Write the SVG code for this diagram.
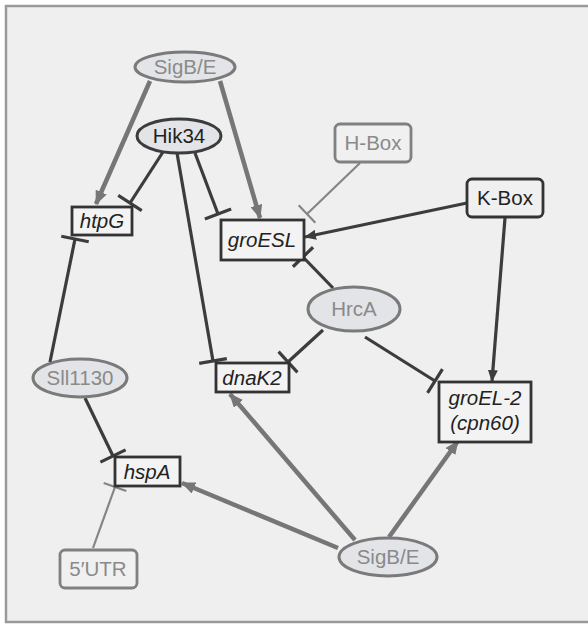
<svg xmlns="http://www.w3.org/2000/svg" width="588" height="624" viewBox="0 0 588 624">
<defs>
<style>
.ell{fill:#e3e4e7;stroke-width:3}
.eg{stroke:#7a7a7a}
.ed{stroke:#3c3c3c}
.box{fill:#f3f3f3;stroke:#333;stroke-width:2.8}
.rbg{fill:#f0f0f0;stroke:#808080;stroke-width:2.8}
.rbd{fill:#f0f0f0;stroke:#333;stroke-width:2.8}
text{font-family:"Liberation Sans",Arial,sans-serif;font-size:20.5px;text-anchor:middle}
.tg{fill:#8a8a8a}
.td{fill:#222}
.it{font-style:italic;fill:#222}
.act{fill:none;stroke:#767676;stroke-width:4.5}
.dk{fill:none;stroke:#3c3c3c;stroke-width:3.2}
.th{fill:none;stroke:#858585;stroke-width:2.2}
</style>
<marker id="ag" markerUnits="userSpaceOnUse" viewBox="0 0 14 12" refX="13" refY="6" markerWidth="14" markerHeight="12" orient="auto"><path d="M0,0 L14,6 L0,12 z" fill="#767676"/></marker>
<marker id="ad" markerUnits="userSpaceOnUse" viewBox="0 0 12 10" refX="11" refY="5" markerWidth="12" markerHeight="10" orient="auto"><path d="M0,0 L12,5 L0,10 z" fill="#3c3c3c"/></marker>
<marker id="bd" markerUnits="userSpaceOnUse" viewBox="-2 -15 4 30" refX="0" refY="0" markerWidth="4" markerHeight="30" orient="auto"><path d="M0,-14 L0,14" stroke="#3c3c3c" stroke-width="3.2"/></marker>
<marker id="bg" markerUnits="userSpaceOnUse" viewBox="-2 -14 4 28" refX="0" refY="0" markerWidth="4" markerHeight="28" orient="auto"><path d="M0,-12 L0,12" stroke="#858585" stroke-width="2.2"/></marker>
</defs>
<rect x="0" y="0" width="588" height="624" fill="#ffffff"/>
<rect x="6" y="6" width="600" height="616" fill="#efefef" stroke="#9a9a9a" stroke-width="2.5"/>

<g id="connectors">
<line class="act" x1="150" y1="81" x2="96" y2="204" marker-end="url(#ag)"/>
<line class="act" x1="220" y1="81" x2="260" y2="218" marker-end="url(#ag)"/>
<line class="dk" x1="163" y1="152" x2="130" y2="203" marker-end="url(#bd)"/>
<line class="dk" x1="195" y1="153" x2="218" y2="214" marker-end="url(#bd)"/>
<line class="dk" x1="177" y1="153" x2="213" y2="361" marker-end="url(#bd)"/>
<line class="th" x1="360" y1="163" x2="307" y2="214" marker-end="url(#bg)"/>
<line class="dk" x1="467" y1="203" x2="305" y2="237" marker-end="url(#ad)"/>
<line class="dk" x1="505" y1="218" x2="492" y2="381" marker-end="url(#ad)"/>
<line class="dk" x1="333" y1="288" x2="303" y2="257" marker-end="url(#bd)"/>
<line class="dk" x1="323" y1="330" x2="288" y2="362" marker-end="url(#bd)"/>
<line class="dk" x1="365" y1="337" x2="435" y2="381" marker-end="url(#bd)"/>
<line class="dk" x1="50" y1="362" x2="75" y2="239" marker-end="url(#bd)"/>
<line class="dk" x1="85" y1="398" x2="113" y2="456" marker-end="url(#bd)"/>
<line class="th" x1="93" y1="548" x2="115" y2="487" marker-end="url(#bg)"/>
<line class="act" x1="338" y1="548" x2="182" y2="483" marker-end="url(#ag)"/>
<line class="act" x1="355" y1="540" x2="230" y2="394" marker-end="url(#ag)"/>
<line class="act" x1="389" y1="537" x2="458" y2="441" marker-end="url(#ag)"/>
</g>

<g id="sigbe-top"><ellipse class="ell eg" cx="185" cy="67" rx="50" ry="15"/><text class="tg" x="185" y="74">SigB/E</text></g>
<g id="hik34"><ellipse class="ell ed" cx="179" cy="136" rx="42" ry="17"/><text class="td" x="179" y="143">Hik34</text></g>
<g id="htpG"><rect class="box" x="72" y="207" width="60" height="28"/><text class="it" x="102" y="228">htpG</text></g>
<g id="groESL"><rect class="box" x="221" y="220" width="83" height="40"/><text class="it" x="262" y="247">groESL</text></g>
<g id="hbox"><rect class="rbg" x="335" y="124" width="76" height="38" rx="5"/><text class="tg" x="373" y="150">H-Box</text></g>
<g id="kbox"><rect class="rbd" x="467" y="179" width="76" height="38" rx="5"/><text class="td" x="505" y="205">K-Box</text></g>
<g id="hrca"><ellipse class="ell eg" cx="354" cy="309" rx="46" ry="22"/><text class="tg" x="354" y="316">HrcA</text></g>
<g id="dnaK2"><rect class="box" x="216" y="363" width="73" height="29"/><text class="it" x="252" y="385">dnaK2</text></g>
<g id="groEL2"><rect class="box" x="439" y="382" width="92" height="60"/><text class="it" x="485" y="405">groEL-2</text><text class="it" x="485" y="430">(cpn60)</text></g>
<g id="sll1130"><ellipse class="ell eg" cx="80" cy="378" rx="47" ry="19"/><text class="tg" x="80" y="385">Sll1130</text></g>
<g id="hspA"><rect class="box" x="115" y="457" width="65" height="29"/><text class="it" x="147" y="479">hspA</text></g>
<g id="utr"><rect class="rbg" x="60" y="550" width="77" height="38" rx="5"/><text class="tg" x="98" y="576">5′UTR</text></g>
<g id="sigbe-bottom"><ellipse class="ell eg" cx="388" cy="557" rx="49" ry="19"/><text class="tg" x="388" y="564">SigB/E</text></g>
</svg>
